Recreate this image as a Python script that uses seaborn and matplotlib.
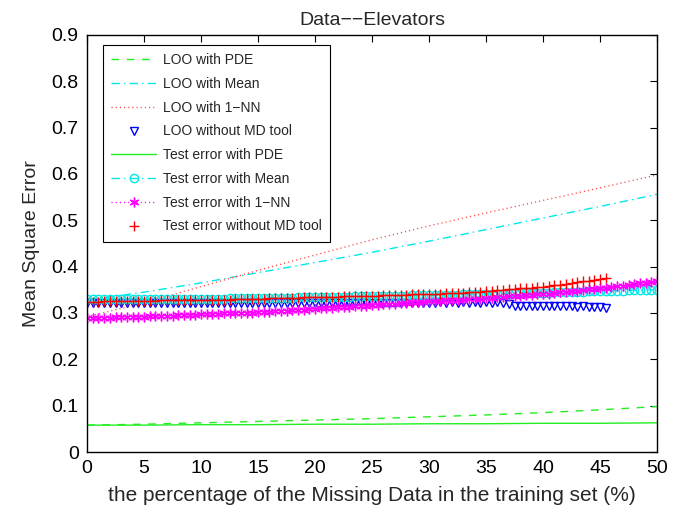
import numpy as np
import matplotlib
matplotlib.use('Agg')
import matplotlib.pyplot as plt
import seaborn as sns

# missing data percentage
pct_coarse = [0, 5, 10, 15, 20, 25, 30, 35, 40, 45, 50]
pct_fine = np.arange(0, 50.5, 0.5)
pct_short = np.arange(0, 46.0, 0.5)

# LOO curves (lines only)
loo_pde = [0.058, 0.060, 0.063, 0.066, 0.069, 0.072, 0.076, 0.080, 0.085, 0.091, 0.098]
loo_mean = [0.328, 0.345, 0.365, 0.387, 0.409, 0.431, 0.455, 0.480, 0.505, 0.530, 0.556]
loo_1nn = [0.292, 0.322, 0.357, 0.392, 0.425, 0.458, 0.488, 0.516, 0.543, 0.570, 0.598]
test_pde = [0.058, 0.058, 0.059, 0.059, 0.060, 0.060, 0.061, 0.061, 0.062, 0.062, 0.063]

# LOO without MD tool (0 .. 45.5)
loo_nomd = [0.322, 0.321, 0.322, 0.321, 0.322, 0.321, 0.322, 0.321, 0.322, 0.321,
            0.322, 0.321, 0.322, 0.321, 0.322, 0.321, 0.322, 0.321, 0.322, 0.321,
            0.322, 0.321, 0.322, 0.321, 0.322, 0.321, 0.322, 0.321, 0.322, 0.321,
            0.322, 0.321, 0.322, 0.321, 0.322, 0.321, 0.322, 0.321, 0.322, 0.321,
            0.322, 0.321, 0.322, 0.321, 0.322, 0.321, 0.322, 0.321, 0.322, 0.321,
            0.322, 0.321, 0.322, 0.321, 0.322, 0.321, 0.322, 0.321, 0.322, 0.321,
            0.322, 0.322, 0.323, 0.322, 0.323, 0.322, 0.323, 0.322, 0.323, 0.322,
            0.323, 0.322, 0.323, 0.322, 0.320, 0.316, 0.315, 0.316, 0.315, 0.316,
            0.315, 0.316, 0.315, 0.316, 0.315, 0.315, 0.314, 0.315, 0.314, 0.313,
            0.312, 0.310]

# Test error with Mean (0 .. 50)
test_mean = [0.330, 0.330, 0.330, 0.330, 0.330, 0.330, 0.330, 0.330, 0.330, 0.330,
             0.330, 0.330, 0.330, 0.330, 0.330, 0.331, 0.331, 0.331, 0.331, 0.331,
             0.331, 0.331, 0.331, 0.331, 0.331, 0.332, 0.332, 0.332, 0.332, 0.332,
             0.332, 0.332, 0.333, 0.333, 0.333, 0.333, 0.333, 0.334, 0.334, 0.334,
             0.334, 0.334, 0.335, 0.335, 0.335, 0.335, 0.335, 0.336, 0.336, 0.336,
             0.336, 0.336, 0.337, 0.337, 0.337, 0.337, 0.337, 0.338, 0.338, 0.338,
             0.338, 0.338, 0.339, 0.339, 0.339, 0.339, 0.340, 0.340, 0.340, 0.341,
             0.341, 0.341, 0.342, 0.342, 0.342, 0.343, 0.343, 0.343, 0.344, 0.344,
             0.344, 0.344, 0.345, 0.345, 0.345, 0.346, 0.346, 0.346, 0.347, 0.347,
             0.347, 0.347, 0.348, 0.348, 0.348, 0.349, 0.349, 0.349, 0.350, 0.350,
             0.350]

# Test error with 1-NN (0 .. 50)
test_1nn = [0.289, 0.289, 0.290, 0.290, 0.290, 0.291, 0.291, 0.291, 0.292, 0.292,
            0.292, 0.293, 0.293, 0.294, 0.294, 0.294, 0.295, 0.295, 0.296, 0.296,
            0.297, 0.297, 0.298, 0.298, 0.299, 0.299, 0.300, 0.300, 0.301, 0.301,
            0.302, 0.303, 0.303, 0.304, 0.305, 0.305, 0.306, 0.307, 0.307, 0.308,
            0.309, 0.310, 0.311, 0.311, 0.312, 0.313, 0.314, 0.315, 0.315, 0.316,
            0.317, 0.318, 0.319, 0.319, 0.320, 0.321, 0.322, 0.323, 0.323, 0.324,
            0.325, 0.326, 0.326, 0.327, 0.328, 0.328, 0.329, 0.330, 0.331, 0.331,
            0.332, 0.333, 0.334, 0.335, 0.336, 0.336, 0.337, 0.338, 0.339, 0.340,
            0.341, 0.342, 0.343, 0.345, 0.346, 0.347, 0.348, 0.349, 0.351, 0.352,
            0.353, 0.355, 0.356, 0.358, 0.359, 0.361, 0.362, 0.364, 0.365, 0.367,
            0.368]

# Test error without MD tool (0 .. 45.5)
test_nomd = [0.324, 0.324, 0.324, 0.325, 0.325, 0.325, 0.325, 0.325, 0.326, 0.326,
             0.326, 0.326, 0.326, 0.327, 0.327, 0.327, 0.327, 0.327, 0.328, 0.328,
             0.328, 0.328, 0.329, 0.329, 0.329, 0.329, 0.330, 0.330, 0.330, 0.331,
             0.331, 0.331, 0.332, 0.332, 0.332, 0.333, 0.333, 0.333, 0.334, 0.334,
             0.334, 0.334, 0.335, 0.335, 0.335, 0.336, 0.336, 0.336, 0.337, 0.337,
             0.337, 0.337, 0.338, 0.338, 0.339, 0.339, 0.339, 0.340, 0.340, 0.341,
             0.341, 0.342, 0.342, 0.343, 0.343, 0.344, 0.344, 0.345, 0.346, 0.346,
             0.347, 0.348, 0.349, 0.350, 0.351, 0.352, 0.353, 0.354, 0.355, 0.356,
             0.357, 0.358, 0.360, 0.361, 0.363, 0.365, 0.366, 0.368, 0.369, 0.371,
             0.373, 0.376]

sns.set_style('white')
plt.rcParams['font.family'] = ['Liberation Sans', 'DejaVu Sans']
plt.rcParams['lines.scale_dashes'] = False

fig, ax = plt.subplots(figsize=(6.81, 5.13), dpi=100)
fig.subplots_adjust(left=0.1278, right=0.9648, bottom=0.1189, top=0.9318)

lw = 1.0
mk = dict(markerfacecolor='none', markeredgewidth=1.0)
green = '#22ee22'
cyan = '#00e8e8'

sns.lineplot(x=pct_coarse, y=loo_pde, ax=ax, color=green, lw=lw,
             linestyle=(0, (5.5, 5.5)), label='LOO with PDE')
sns.lineplot(x=pct_coarse, y=loo_mean, ax=ax, color=cyan, lw=lw,
             linestyle=(0, (6, 3, 1, 3)), label='LOO with Mean')
sns.lineplot(x=pct_coarse, y=loo_1nn, ax=ax, color='#ff4444', lw=lw,
             linestyle=(0, (0.8, 2.2)), label='LOO with 1\u2212NN')
sns.lineplot(x=pct_short, y=loo_nomd, ax=ax, color='#0000ff', linestyle='none',
             marker='v', markersize=6, markeredgecolor='#0000ff', label='LOO without MD tool', **mk)
sns.lineplot(x=pct_coarse, y=test_pde, ax=ax, color=green, lw=lw,
             linestyle='-', label='Test error with PDE')
sns.lineplot(x=pct_fine, y=test_mean, ax=ax, color=cyan, lw=lw,
             linestyle=(0, (6, 3, 1, 3)), marker='o', markersize=6,
             markeredgecolor=cyan, label='Test error with Mean', **mk)
sns.lineplot(x=pct_fine, y=test_1nn, ax=ax, color='#ff00ff', lw=lw,
             linestyle=(0, (0.8, 2.2)), marker=(6, 2, 0), markersize=7,
             markeredgecolor='#ff00ff', label='Test error with 1\u2212NN', **mk)
sns.lineplot(x=pct_short, y=test_nomd, ax=ax, color='#ff0000', linestyle='none',
             marker='+', markersize=7, markeredgecolor='#ff0000',
             label='Test error without MD tool', **mk)

ax.set_xlim(0, 50)
ax.set_ylim(0, 0.9)
ax.set_xticks(np.arange(0, 51, 5))
ax.set_yticks(np.arange(0, 0.91, 0.1))
ax.set_yticklabels(['0', '0.1', '0.2', '0.3', '0.4', '0.5', '0.6', '0.7', '0.8', '0.9'])
ax.tick_params(direction='in', length=5, width=0.8, top=True, right=True,
               labelsize=14, pad=6, colors='black')
for s in ax.spines.values():
    s.set_visible(True)
    s.set_color('black')
    s.set_linewidth(1.0)

ax.set_xlabel('the percentage of the Missing Data in the training set (%)', fontsize=15, labelpad=6)
ax.set_ylabel('Mean Square Error', fontsize=14, labelpad=8)
ax.set_title('Data\u2212\u2212Elevators', fontsize=14, pad=7)

leg = ax.legend(loc='upper left', bbox_to_anchor=(0.028, 0.976), borderaxespad=0,
                fontsize=10, frameon=True, fancybox=False, edgecolor='black',
                framealpha=1, labelspacing=0.7, handlelength=3.2, handletextpad=0.5,
                borderpad=0.6, numpoints=1)
leg.get_frame().set_linewidth(0.8)

plt.savefig('out.png', dpi=100)
